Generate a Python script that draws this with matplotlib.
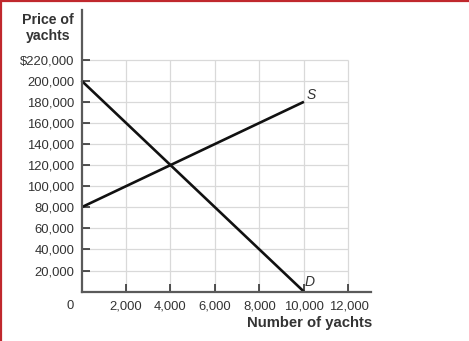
import matplotlib
matplotlib.use("Agg")
import matplotlib.pyplot as plt
from matplotlib.lines import Line2D

plt.rcParams["font.family"] = ["Liberation Sans", "DejaVu Sans"]

# data
quantity = [0, 10000]
demand_price = [200000, 0]
supply_price = [80000, 180000]
x_ticks = [2000, 4000, 6000, 8000, 10000, 12000]
x_tick_labels = ["2,000", "4,000", "6,000", "8,000", "10,000", "12,000"]
y_ticks = [20000, 40000, 60000, 80000, 100000, 120000, 140000, 160000,
           180000, 200000, 220000]
y_tick_labels = ["20,000", "40,000", "60,000", "80,000", "100,000", "120,000",
                 "140,000", "160,000", "180,000", "200,000", "$220,000"]

text_c = "#333333"
grid_c = "#d9d9d9"
spine_c = "#5a5a5a"

fig = plt.figure(figsize=(4.69, 3.41), dpi=100)
W, H = 469, 341
x0, x1 = 81.5, 370.7
y0, y1 = 291.7, 10
ax = fig.add_axes([x0 / W, (H - y0) / H, (x1 - x0) / W, (y0 - y1) / H])
ax.set_xlim(0, 13000)
ax.set_ylim(0, 267000)

# grid, only up to 12,000 / 220,000
ax.hlines(y_ticks, 0, 12000, color=grid_c, linewidth=0.9, zorder=0)
ax.vlines(x_ticks, 0, 220000, color=grid_c, linewidth=0.9, zorder=0)

ax.plot(quantity, demand_price, color="#111111", linewidth=1.9,
        solid_capstyle="butt", clip_on=False)
ax.plot(quantity, supply_price, color="#111111", linewidth=1.9,
        solid_capstyle="butt", clip_on=False)
ax.text(10100, 180000, "S", style="italic", fontsize=10, color=text_c,
        ha="left", va="bottom")
ax.text(10050, 3000, "D", style="italic", fontsize=10, color=text_c,
        ha="left", va="bottom")

for s in ("top", "right"):
    ax.spines[s].set_visible(False)
for s in ("left", "bottom"):
    ax.spines[s].set_color(spine_c)
    ax.spines[s].set_linewidth(1.6)

ax.set_xticks(x_ticks)
ax.set_xticklabels(x_tick_labels)
ax.set_yticks(y_ticks)
ax.set_yticklabels(y_tick_labels)
ax.tick_params(axis="both", direction="in", length=6, width=1.2,
               color="#333333", labelsize=9.4, labelcolor=text_c)
ax.tick_params(axis="x", pad=6)
ax.tick_params(axis="y", pad=5)

# shared origin label
ax.text(-500, -7500, "0", fontsize=9.4, color=text_c, ha="center", va="top")

fig.text(48 / W, 1 - 20 / H, "Price of", fontsize=10.2, fontweight="bold",
         color=text_c, ha="center", va="center")
fig.text(48 / W, 1 - 36 / H, "yachts", fontsize=10.2, fontweight="bold",
         color=text_c, ha="center", va="center")
fig.text(372 / W, 1 - 323 / H, "Number of yachts", fontsize=10.7,
         fontweight="bold", color=text_c, ha="right", va="center")

# red frame edges from the source crop
fig.add_artist(Line2D([0, 1], [1 - 1 / H, 1 - 1 / H], color="#c0282d",
                      linewidth=1.6, transform=fig.transFigure))
fig.add_artist(Line2D([1 / W, 1 / W], [0, 1], color="#c0282d",
                      linewidth=1.6, transform=fig.transFigure))

fig.savefig("out.png", dpi=100)
